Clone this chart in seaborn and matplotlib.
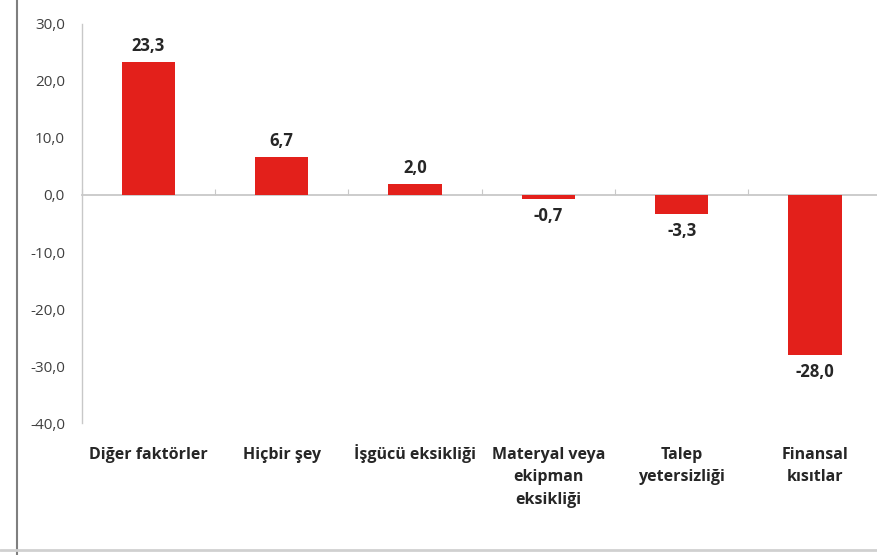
import matplotlib
matplotlib.use("Agg")
import matplotlib.pyplot as plt
import matplotlib.transforms as mtransforms
import seaborn as sns
import pandas as pd
from matplotlib.ticker import FuncFormatter
from matplotlib.lines import Line2D

categories = ["Diğer faktörler", "Hiçbir şey", "İşgücü eksikliği",
              "Materyal veya\nekipman\neksikliği", "Talep\nyetersizliği", "Finansal\nkısıtlar"]
values = [23.3, 6.7, 2.0, -0.7, -3.3, -28.0]
yticks = [30, 20, 10, 0, -10, -20, -30, -40]

df = pd.DataFrame({"cat": categories, "val": values})

sns.set_style("white")
plt.rcParams["font.family"] = ["Open Sans", "DejaVu Sans"]

fig = plt.figure(figsize=(8.77, 5.55), dpi=100)
ax = fig.add_axes([0.093, 0.2378, 1.0055 - 0.093, 0.9568 - 0.2378])

sns.barplot(data=df, x="cat", y="val", color="#E3201B", width=0.4,
            saturation=1, ax=ax, edgecolor="none")

ax.set_ylim(-40, 30)
ax.set_xlim(-0.5, len(categories) - 0.5)
ax.set_yticks(yticks)
ax.yaxis.set_major_formatter(FuncFormatter(lambda v, p: f"{v:.1f}".replace(".", ",")))
ax.tick_params(axis="y", length=4, color="#BFBFBF", labelsize=11, labelcolor="#404040", pad=8)
ax.tick_params(axis="x", length=0, labelsize=11.5, pad=17)
for lbl in ax.get_xticklabels():
    lbl.set_fontweight("bold")
    lbl.set_color("#262626")
    lbl.set_linespacing(1.55)
    if lbl.get_text().startswith("İ"):
        lbl.set_transform(lbl.get_transform() +
                          mtransforms.ScaledTranslation(0, 1.5 / 72, fig.dpi_scale_trans))
ax.set_xlabel("")
ax.set_ylabel("")
for s in ["top", "right", "bottom"]:
    ax.spines[s].set_visible(False)
ax.spines["left"].set_color("#C8C8C8")
ax.spines["left"].set_linewidth(1)

# zero axis with boundary ticks
sec = ax.secondary_xaxis(40 / 70)
sec.set_xticks([i + 0.5 for i in range(-1, len(categories))])
sec.set_xticklabels([])
sec.tick_params(length=4, color="#C8C8C8", direction="out")
for sp in sec.spines.values():
    sp.set_color("#C8C8C8")
    sp.set_linewidth(1.3)

for i, v in enumerate(values):
    txt = f"{v:.1f}".replace(".", ",")
    if v >= 0:
        ax.annotate(txt, (i, v), xytext=(0, 5), textcoords="offset points",
                    ha="center", va="bottom", fontsize=12, fontweight="bold", color="#262626")
    else:
        ax.annotate(txt, (i, v), xytext=(0, -6), textcoords="offset points",
                    ha="center", va="top", fontsize=12, fontweight="bold", color="#262626")

# image frame lines
fig.add_artist(Line2D([17 / 877, 17 / 877], [0, 1], color="#7F7F7F", lw=1.5, transform=fig.transFigure))
fig.add_artist(Line2D([0, 1], [1 - 550 / 555, 1 - 550 / 555], color="#D0D0D0", lw=2, transform=fig.transFigure))

fig.savefig("out.png", dpi=100)
